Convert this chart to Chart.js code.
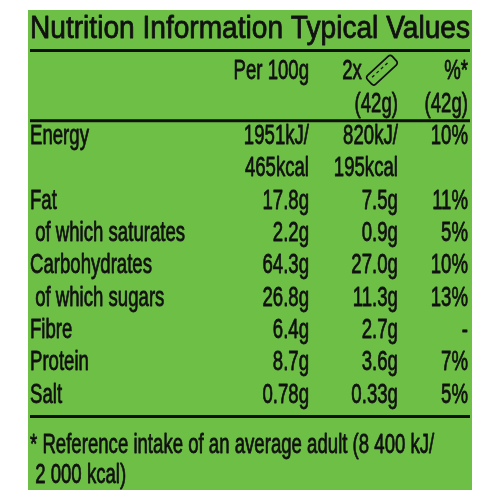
<!DOCTYPE html>
<html>
<head>
<meta charset="utf-8">
<script src="https://cdn.jsdelivr.net/npm/chart.js@4"></script>
<style>
  html, body { margin: 0; padding: 0; background: #fff; }
  canvas { display: block; }
</style>
</head>
<body>
<canvas id="nutritionChart" width="500" height="500"></canvas>
<script>
// table content, one array per column
const title = "Nutrition Information Typical Values";
const rowKeys = ["head1", "head2", "energy", "energy2", "fat", "saturates", "carbs", "sugars", "fibre", "protein", "salt"];
const nutrients = ["", "", "Energy", "", "Fat", " of which saturates", "Carbohydrates", " of which sugars", "Fibre", "Protein", "Salt"];
const per100g = ["Per 100g", "", "1951kJ/", "465kcal", "17.8g", "2.2g", "64.3g", "26.8g", "6.4g", "8.7g", "0.78g"];
const perPortion = ["2x", "(42g)", "820kJ/", "195kcal", "7.5g", "0.9g", "27.0g", "11.3g", "2.7g", "3.6g", "0.33g"];
const riPercent = ["%*", "(42g)", "10%", "", "11%", "5%", "10%", "13%", "-", "7%", "5%"];
const footnote = ["* Reference intake of an average adult (8 400 kJ/", " 2 000 kcal)"];

const columns = [nutrients, per100g, perPortion, riPercent];

const GREEN = "#6dbf46";
const INK = "#111";
const FONT = '"Liberation Sans Narrow", "Liberation Sans", Arial, sans-serif';

// condensed look: regular font squeezed sideways
let titleSqueeze = 0.8;
let bodySqueeze = 0.75;

function drawText(ctx, text, x, y, size, align, sx) {
    ctx.save();
    ctx.translate(x, y);
    ctx.scale(sx, 1);
    ctx.font = size + "px " + FONT;
    ctx.textAlign = align;
    ctx.textBaseline = "alphabetic";
    ctx.fillStyle = INK;
    ctx.strokeStyle = INK;
    ctx.lineWidth = 0.8;
    ctx.lineJoin = "round";
    ctx.fillText(text, 0, 0);
    ctx.strokeText(text, 0, 0);
    ctx.restore();
}

function drawBarIcon(ctx, x, y) {
    // little cereal bar drawn at an angle
    ctx.save();
    ctx.translate(x, y);
    ctx.rotate(-Math.PI / 4.2);
    ctx.strokeStyle = INK;
    ctx.lineWidth = 1.7;
    ctx.beginPath();
    ctx.roundRect(-17, -6, 34, 12, 3);
    ctx.stroke();
    ctx.lineWidth = 1.2;
    for (let i = -12; i <= 10; i += 6) {
        ctx.beginPath();
        ctx.moveTo(i, -1.5);
        ctx.lineTo(i + 3, -1.5);
        ctx.stroke();
    }
    ctx.restore();
}

const tablePlugin = {
    id: "nutritionTable",
    beforeDraw(chart) {
        const ctx = chart.ctx;
        ctx.save();
        ctx.fillStyle = "#fff";
        ctx.fillRect(0, 0, chart.width, chart.height);
        ctx.fillStyle = GREEN;
        ctx.fillRect(28, 10, 444, 480);
        ctx.restore();
    },
    afterDatasetsDraw(chart) {
        const ctx = chart.ctx;
        const area = chart.chartArea;
        const yScale = chart.scales.y;

        ctx.save();
        ctx.font = "31px " + FONT;
        titleSqueeze = (area.right - area.left + 2) / ctx.measureText(title).width;
        ctx.font = "28px " + FONT;
        bodySqueeze = 122 / ctx.measureText("Carbohydrates").width;
        ctx.restore();

        drawText(ctx, title, area.left, area.top - 14, 31, "left", titleSqueeze);

        // rules
        ctx.save();
        ctx.fillStyle = INK;
        ctx.fillRect(area.left, area.top - 3, area.right - area.left + 2, 3);
        const between = (yScale.getPixelForValue(1) + yScale.getPixelForValue(2)) / 2 + 4;
        ctx.fillRect(area.left, between - 1.5, area.right - area.left + 2, 3);
        ctx.fillRect(area.left, area.bottom + 7, area.right - area.left + 2, 3);
        ctx.restore();

        // cells
        chart.data.datasets.forEach((ds, c) => {
            const meta = chart.getDatasetMeta(c);
            meta.data.forEach((pt, i) => {
                const text = columns[c][i];
                if (!text) return;
                const base = pt.y + 11;
                if (c === 2 && i === 0) {
                    drawText(ctx, text, pt.x - 36, base, 28, "right", bodySqueeze);
                    drawBarIcon(ctx, pt.x - 16, base - 9);
                    return;
                }
                drawText(ctx, text, pt.x, base, 28, c === 0 ? "left" : "right", bodySqueeze);
            });
        });

        footnote.forEach((line, i) => {
            drawText(ctx, line, area.left, area.bottom + 45 + i * 30, 28, "left", bodySqueeze);
        });
    }
};

const colPos = [0, 63.7, 84, 100];

new Chart(document.getElementById("nutritionChart"), {
    type: "scatter",
    data: {
        datasets: columns.map((col, c) => ({
            label: "col" + c,
            data: rowKeys.map(key => ({ x: colPos[c], y: key })),
            pointRadius: 0,
            pointHoverRadius: 0
        }))
    },
    options: {
        responsive: false,
        animation: false,
        layout: {
            padding: { left: 30, right: 32, top: 52, bottom: 92 }
        },
        scales: {
            x: { type: "linear", min: 0, max: 100, display: false },
            y: { type: "category", labels: rowKeys, offset: true, display: false }
        },
        plugins: {
            legend: { display: false },
            tooltip: { enabled: false }
        }
    },
    plugins: [tablePlugin]
});
</script>
</body>
</html>
